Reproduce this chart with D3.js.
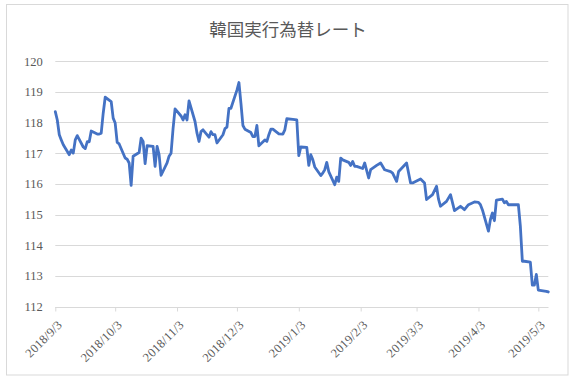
<!DOCTYPE html>
<html><head><meta charset="utf-8">
<script src="https://cdn.jsdelivr.net/npm/d3@7"></script>
<style>
html,body{margin:0;padding:0;background:#fff;}
svg{display:block;}
</style></head>
<body>
<svg id="chart" width="578" height="381"></svg>
<script>
const title = "韓国実行為替レート";
const dates = [
"2018-09-03","2018-09-04","2018-09-05","2018-09-06","2018-09-07","2018-09-10","2018-09-11","2018-09-12","2018-09-13","2018-09-14",
"2018-09-17","2018-09-18","2018-09-19","2018-09-20","2018-09-21","2018-09-24","2018-09-25","2018-09-26","2018-09-27","2018-09-28",
"2018-10-01","2018-10-02","2018-10-03","2018-10-04","2018-10-05","2018-10-08","2018-10-09","2018-10-10","2018-10-11","2018-10-12",
"2018-10-15","2018-10-16","2018-10-17","2018-10-18","2018-10-19","2018-10-22","2018-10-23","2018-10-24","2018-10-25","2018-10-26",
"2018-10-29","2018-10-30","2018-10-31","2018-11-01","2018-11-02","2018-11-05","2018-11-06","2018-11-07","2018-11-08","2018-11-09",
"2018-11-12","2018-11-13","2018-11-14","2018-11-15","2018-11-16","2018-11-19","2018-11-20","2018-11-21","2018-11-22","2018-11-23",
"2018-11-26","2018-11-27","2018-11-28","2018-11-29","2018-11-30","2018-12-03","2018-12-04","2018-12-05","2018-12-06","2018-12-07",
"2018-12-10","2018-12-11","2018-12-12","2018-12-13","2018-12-14","2018-12-17","2018-12-18","2018-12-19","2018-12-20","2018-12-21",
"2018-12-24","2018-12-26","2018-12-27","2018-12-28","2018-12-31","2019-01-02","2019-01-03","2019-01-04","2019-01-07","2019-01-08",
"2019-01-09","2019-01-10","2019-01-11","2019-01-14","2019-01-15","2019-01-16","2019-01-17","2019-01-18","2019-01-21","2019-01-22",
"2019-01-23","2019-01-24","2019-01-25","2019-01-28","2019-01-29","2019-01-30","2019-01-31","2019-02-01","2019-02-04","2019-02-05",
"2019-02-07","2019-02-08","2019-02-11","2019-02-13","2019-02-15","2019-02-18","2019-02-19","2019-02-21","2019-02-22","2019-02-26",
"2019-02-28","2019-03-01","2019-03-05","2019-03-07","2019-03-08","2019-03-11","2019-03-13","2019-03-14","2019-03-15","2019-03-18",
"2019-03-20","2019-03-22","2019-03-25","2019-03-27","2019-03-29","2019-04-01","2019-04-03","2019-04-04","2019-04-05","2019-04-08",
"2019-04-09","2019-04-10","2019-04-11","2019-04-12","2019-04-15","2019-04-16","2019-04-17","2019-04-18","2019-04-19","2019-04-23",
"2019-04-24","2019-04-25","2019-04-26","2019-04-29","2019-04-30","2019-05-01","2019-05-02","2019-05-03","2019-05-07","2019-05-08"
];
const values = [
118.35,118.08,117.60,117.43,117.27,116.95,117.10,117.00,117.43,117.57,
117.20,117.15,117.37,117.37,117.72,117.62,117.62,117.65,118.30,118.82,
118.68,118.14,117.98,117.35,117.30,116.84,116.80,116.68,115.95,116.90,
117.02,117.49,117.38,116.66,117.24,117.22,116.57,117.22,116.95,116.28,
116.68,116.90,117.00,117.80,118.44,118.21,118.08,118.25,118.08,118.70,
118.03,117.65,117.38,117.70,117.76,117.52,117.70,117.60,117.60,117.33,
117.60,117.80,117.85,118.46,118.46,119.05,119.30,118.63,117.90,117.78,
117.67,117.54,117.54,117.90,117.24,117.43,117.38,117.60,117.78,117.78,
117.63,117.62,117.76,118.12,118.10,118.08,116.92,117.20,117.19,116.60,
116.95,116.79,116.55,116.27,116.35,116.46,116.70,116.40,115.97,116.22,
116.08,116.84,116.78,116.70,116.60,116.73,116.57,116.57,116.50,116.68,
116.19,116.46,116.60,116.68,116.46,116.40,116.35,116.08,116.40,116.68,
116.03,116.03,116.16,116.03,115.49,115.65,115.92,115.50,115.27,115.43,
115.65,115.13,115.27,115.16,115.32,115.41,115.40,115.32,115.15,114.46,
114.84,115.05,114.80,115.47,115.50,115.38,115.43,115.32,115.32,115.32,
114.62,113.48,113.48,113.45,112.70,112.70,113.05,112.54,112.50,112.48
];
const yTicks = [112,113,114,115,116,117,118,119,120];
const xTickDates = ["2018-09-03","2018-10-03","2018-11-03","2018-12-03","2019-01-03","2019-02-03","2019-03-03","2019-04-03","2019-05-03"];

const parse = d3.utcParse("%Y-%m-%d");
const fmt = d3.utcFormat("%Y/%-m/%-d");
const data = dates.map((d,i)=>({date:parse(d), value:values[i]}));

const svg = d3.select("#chart");
const pLeft = 55.3, pRight = 548.3, pTop = 61, pBottom = 306.7;
const serif = "'Liberation Serif', 'DejaVu Serif', serif";

svg.append("rect").attr("x",6.5).attr("y",4.5).attr("width",561.5).attr("height",370.5)
  .attr("fill","#fff").attr("stroke","#d9d9d9").attr("stroke-width",1);

svg.append("text").attr("x",288).attr("y",28.5).attr("text-anchor","middle")
  .attr("dominant-baseline","central")
  .style("font-family","'Noto Sans CJK JP', sans-serif").style("font-size","17.5px")
  .attr("fill","#595959").text(title);

const x = d3.scaleUtc().domain([parse(dates[0]), parse(dates[dates.length-1])]).range([pLeft,pRight]);
const y = d3.scaleLinear().domain([112,120]).range([pBottom,pTop]);

// gridlines
svg.append("g").selectAll("line").data(yTicks).join("line")
  .attr("x1",pLeft).attr("x2",pRight)
  .attr("y1",d=>Math.round(y(d))+0.5).attr("y2",d=>Math.round(y(d))+0.5)
  .attr("stroke","#d9d9d9").attr("stroke-width",1);

// y axis labels
const yAxis = d3.axisLeft(y).tickValues(yTicks).tickSize(0).tickPadding(0).tickFormat(d3.format("d"));
const gy = svg.append("g").attr("transform",`translate(${pLeft-12.5},0)`).call(yAxis);
gy.select(".domain").remove();
gy.selectAll("text").style("font-family",serif)
  .style("font-size","12.5px").attr("fill","#595959");

// x axis
const xAxis = d3.axisBottom(x).tickValues(xTickDates.map(parse)).tickSize(4).tickFormat(fmt);
const gx = svg.append("g").attr("transform",`translate(0,${Math.round(pBottom)+0.5})`).call(xAxis);
gx.select(".domain").attr("stroke","#d9d9d9").attr("d",`M${pLeft},0H${pRight}`);
gx.selectAll(".tick line").attr("stroke","#d9d9d9");
gx.selectAll(".tick text")
  .style("font-family",serif).style("font-size","12.5px").style("letter-spacing","0.2px")
  .attr("fill","#595959")
  .attr("text-anchor","end").attr("dy","0.35em").attr("y",0)
  .attr("transform","translate(4,15) rotate(-45)");

// line
const line = d3.line().x(d=>x(d.date)).y(d=>y(d.value));
svg.append("path").datum(data).attr("d",line)
  .attr("fill","none").attr("stroke","#4472c4").attr("stroke-width",2.8)
  .attr("stroke-linejoin","round").attr("stroke-linecap","round");
</script>
</body></html>
